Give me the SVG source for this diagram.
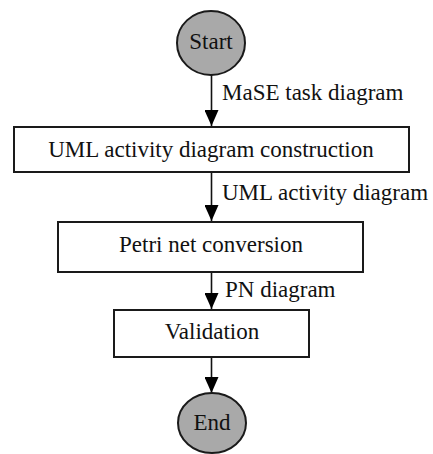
<svg xmlns="http://www.w3.org/2000/svg" width="433" height="454" viewBox="0 0 433 454">
  <style>
    .box { fill: #ffffff; stroke: #1a1a1a; stroke-width: 2; }
    .term { fill: #a9a9a9; stroke: #1a1a1a; stroke-width: 2; }
    .edge { stroke: #111111; stroke-width: 1.6; fill: none; marker-end: url(#arrow); }
    text { font-family: 'Liberation Serif', 'DejaVu Serif', serif; font-size: 23px; fill: #111111; }
    .c { text-anchor: middle; }
  </style>
  <defs>
    <marker id="arrow" viewBox="0 0 16 14" refX="16" refY="7" markerWidth="16" markerHeight="14" markerUnits="userSpaceOnUse" orient="auto">
      <path d="M0,0 L16,7 L0,14 Z" fill="#000000"/>
    </marker>
  </defs>

  <g id="connectors">
    <line class="edge" x1="211.5" y1="75" x2="211.5" y2="126"/>
    <text x="222" y="100">MaSE task diagram</text>
    <line class="edge" x1="211.5" y1="172" x2="211.5" y2="221"/>
    <text x="222" y="200">UML activity diagram</text>
    <line class="edge" x1="211.5" y1="272" x2="211.5" y2="309"/>
    <text x="225" y="297">PN diagram</text>
    <line class="edge" x1="211.5" y1="357" x2="211.5" y2="393"/>
  </g>

  <g id="start">
    <ellipse class="term" cx="211" cy="43" rx="34" ry="32"/>
    <text class="c" x="211" y="49">Start</text>
  </g>

  <g id="uml-construction">
    <rect class="box" x="14" y="127" width="395" height="45"/>
    <text class="c" x="211" y="157">UML activity diagram construction</text>
  </g>

  <g id="petri-conversion">
    <rect class="box" x="58" y="222" width="305" height="50"/>
    <text class="c" x="211" y="252">Petri net conversion</text>
  </g>

  <g id="validation">
    <rect class="box" x="114" y="310" width="195" height="47"/>
    <text class="c" x="212" y="339">Validation</text>
  </g>

  <g id="end">
    <ellipse class="term" cx="212" cy="423" rx="34" ry="30"/>
    <text class="c" x="212" y="430">End</text>
  </g>
</svg>
